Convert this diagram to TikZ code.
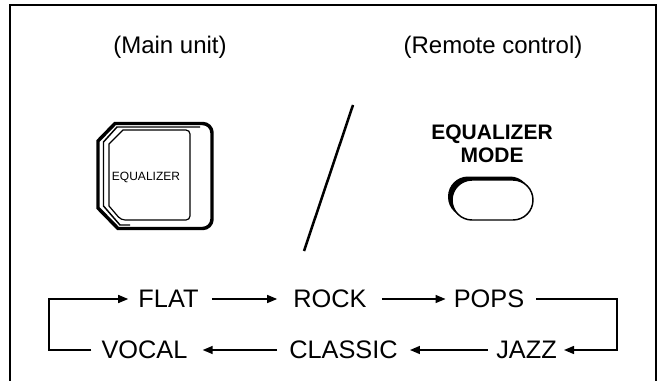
\documentclass[tikz,border=0pt]{standalone}
\usepackage{fontspec}
\setmainfont{Liberation Sans}
\usetikzlibrary{arrows.meta}
\tikzset{
  lbl/.style={font=\fontsize{19}{22}\selectfont, inner sep=0pt, text height=12pt, text depth=0pt, anchor=base},
  toplbl/.style={font=\fontsize{18}{20}\selectfont, inner sep=0pt, anchor=base},
  arr/.style={line width=1.1pt, -{Triangle[length=7.5pt,width=6pt]}},
  frame/.style={line width=1.5pt},
}
\begin{document}
\begin{tikzpicture}[x=0.75pt,y=-0.75pt]
\useasboundingbox (0,0) rectangle (659,381);
% frame
\draw[frame] (10,381) -- (10,5) -- (656,5) -- (656,381);
% top labels
\node[toplbl] (mainlbl) at (170,54) {(Main unit)};
\node[toplbl] (remlbl) at (493,54) {(Remote control)};
% slash
\draw[line width=1.9pt] (353,105) -- (304,251);
% main unit button
\draw[line width=2.6pt] (98,141) -- (115,123.5) [rounded corners=7pt] -- (212,123.5) -- (212,228.5) [sharp corners] -- (118,228.5) -- (98,208) -- cycle;
\draw[line width=1.1pt, line join=round] (200,127) -- (117,127) -- (103.5,142) -- (103.5,206) -- (120,225) -- (130,225);
\draw[line width=0.9pt] (109,144) -- (123,130) [rounded corners=3pt] -- (190,130) -- (190,220) -- (121,220) [sharp corners] -- (109,206) -- cycle;
\node[font=\fontsize{9}{10}\selectfont, inner sep=0pt] (eqtxt) at (146,177) {EQUALIZER};
% remote button
\node[font=\bfseries\fontsize{15.75}{17.25}\selectfont, align=center, inner sep=0pt] (eqm) at (492,144) {EQUALIZER\\MODE};
\fill[rounded corners=15pt] (448,176.5) rectangle (530,217);
\draw[fill=white, line width=1.1pt, rounded corners=15pt] (452,180) rectangle (533,220);
% mode cycle
\node[lbl] (flat) at (168.5,307) {FLAT};
\node[lbl] (rock) at (330,307) {ROCK};
\node[lbl] (pops) at (489,307) {POPS};
\node[lbl] (vocal) at (144.5,358) {VOCAL};
\node[lbl] (classic) at (343.5,358) {CLASSIC};
\node[lbl] (jazz) at (526.5,358) {JAZZ};
\coordinate (lft) at (49,324);
\coordinate (rgt) at (617,324);
\draw[arr, shorten <=9.75pt, shorten >=12pt] (flat.east) -- (rock.west);
\draw[arr, shorten <=11.25pt, shorten >=6pt] (rock.east) -- (pops.west);
\draw[arr, shorten <=9pt, shorten >=5.25pt] (pops.east) -| (rgt) |- (jazz.east);
\draw[arr, shorten <=6pt, shorten >=9pt] (jazz.west) -- (classic.east);
\draw[arr, shorten <=9pt, shorten >=11.25pt] (classic.west) -- (vocal.east);
\draw[arr, shorten <=7.5pt, shorten >=7.5pt] (vocal.west) -| (lft) |- (flat.west);
\end{tikzpicture}
\end{document}
